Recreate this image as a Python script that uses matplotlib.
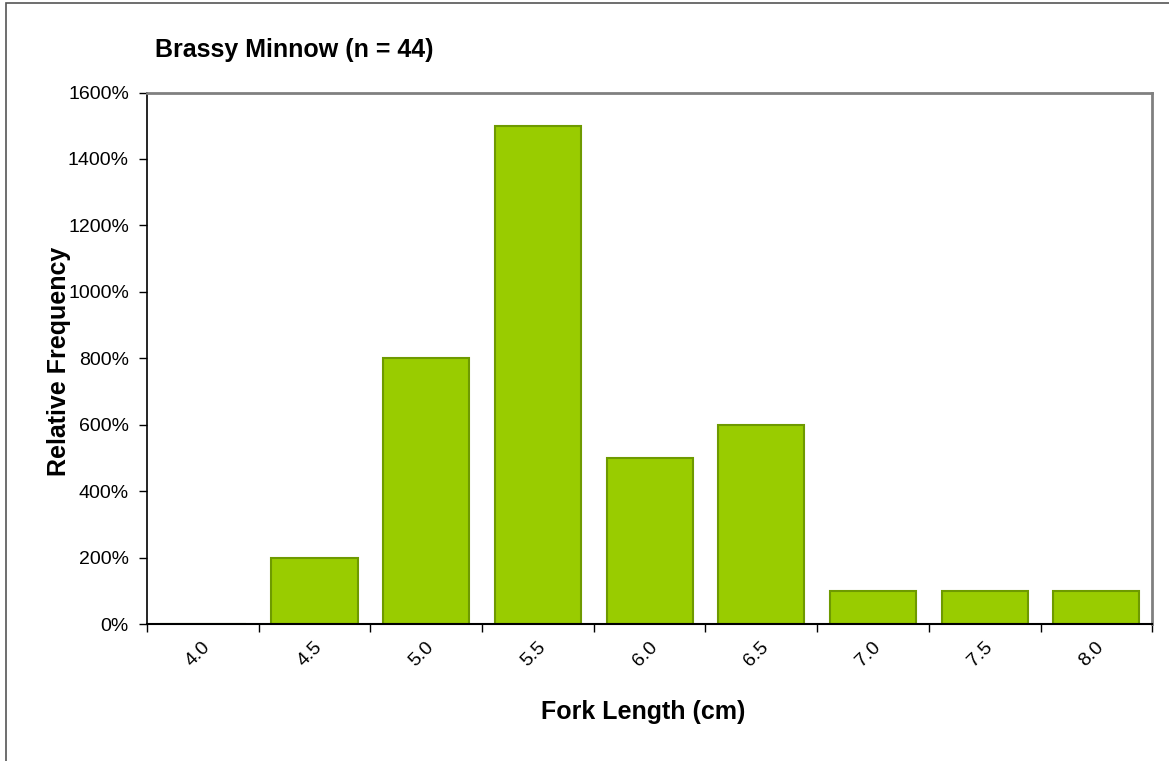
import numpy as np
import matplotlib.pyplot as plt
from matplotlib.patches import Rectangle
from matplotlib.transforms import ScaledTranslation

# data
lengths = ['4.0', '4.5', '5.0', '5.5', '6.0', '6.5', '7.0', '7.5', '8.0']
freq = [0, 200, 800, 1500, 500, 600, 100, 100, 100]  # percent

plt.rcParams['font.family'] = ['Liberation Sans', 'DejaVu Sans']

fig = plt.figure(figsize=(11.69, 7.61), dpi=100)
ax = fig.add_axes([0.1257, 0.18, 0.86, 0.6984])

# outer chart border (right/bottom run off the image)
fig.patches.append(Rectangle((6 / 1169, -0.1), 1.2, 1 - 3 / 761 + 0.1,
                             transform=fig.transFigure, fill=False,
                             edgecolor='#555555', linewidth=1.2))

x = np.arange(len(lengths))
ax.bar(x, freq, width=0.77, color='#99CC00', edgecolor='#6E9A00', linewidth=1.5, zorder=2)

ax.set_xlim(-0.5, len(lengths) - 0.5)
ax.set_ylim(0, 1600)
ax.set_yticks(np.arange(0, 1601, 200))
ax.set_yticklabels([f'{v}%' for v in range(0, 1601, 200)], fontsize=14)

ax.set_xticks(x)
ax.set_xticklabels(lengths, rotation=45, fontsize=14, ha='right', va='center',
                   rotation_mode='anchor')
ax.tick_params(axis='x', length=0, pad=15)
shift = ScaledTranslation(5 / 100, 0, fig.dpi_scale_trans)
for lbl in ax.get_xticklabels():
    lbl.set_transform(lbl.get_transform() + shift)
ax.set_xticks(np.arange(-0.5, len(lengths)), minor=True)
ax.tick_params(axis='x', which='minor', length=6, width=1, color='black')
ax.tick_params(axis='y', length=6, width=1, direction='out', pad=7)

for side in ['top', 'right']:
    ax.spines[side].set_color('#808080')
    ax.spines[side].set_linewidth(2)
ax.spines['left'].set_linewidth(1.2)
ax.spines['bottom'].set_linewidth(1.5)

ax.set_xlabel('Fork Length (cm)', fontsize=18, fontweight='bold')
ax.xaxis.set_label_coords(0.4935, -0.1654)
ax.xaxis.label.set_va('center')
ax.set_ylabel('Relative Frequency', fontsize=18, fontweight='bold')
ax.yaxis.set_label_coords(-0.0876, 0.494)
ax.yaxis.label.set_va('center')
fig.text(155 / 1169, 1 - 50 / 761, 'Brassy Minnow (n = 44)', fontsize=18,
         fontweight='bold', va='center', ha='left')

fig.savefig('out.png', dpi=100)
